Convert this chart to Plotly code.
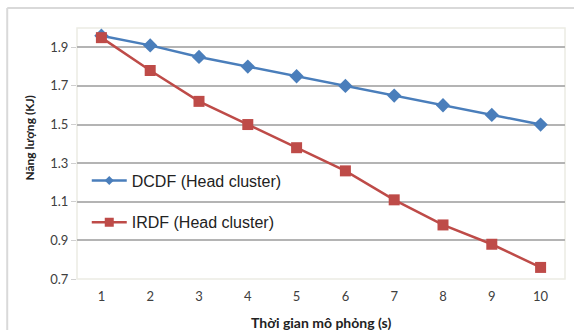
import plotly.graph_objects as go

x_labels = ["1", "2", "3", "4", "5", "6", "7", "8", "9", "10"]
dcdf = [1.96, 1.91, 1.85, 1.80, 1.75, 1.70, 1.65, 1.60, 1.55, 1.50]
irdf = [1.95, 1.78, 1.62, 1.50, 1.38, 1.26, 1.11, 0.98, 0.88, 0.76]
y_ticks = [0.7, 0.9, 1.1, 1.3, 1.5, 1.7, 1.9]

tick_font = dict(family="Lato, Carlito, Calibri, sans-serif", size=13, color="#404040")
blue = "#4a7ebb"
red = "#be4b48"

fig = go.Figure()
fig.add_trace(go.Scatter(
    x=x_labels, y=dcdf, mode="lines+markers", name="DCDF (Head cluster)",
    line=dict(color=blue, width=2.5),
    marker=dict(symbol="diamond", size=11, color=blue),
    legendgroup="a", showlegend=False,
))
fig.add_trace(go.Scatter(
    x=x_labels, y=irdf, mode="lines+markers", name="IRDF (Head cluster)",
    line=dict(color=red, width=2.5),
    marker=dict(symbol="square", size=11, color=red),
    legendgroup="b", showlegend=False,
))
# legend entries with smaller markers
fig.add_trace(go.Scatter(
    x=[None], y=[None], mode="lines+markers", name="DCDF (Head cluster)",
    line=dict(color=blue, width=2.5),
    marker=dict(symbol="diamond", size=7, color=blue),
    legendgroup="a",
))
fig.add_trace(go.Scatter(
    x=[None], y=[None], mode="lines+markers", name="IRDF (Head cluster)",
    line=dict(color=red, width=2.5),
    marker=dict(symbol="square", size=9, color=red),
    legendgroup="b",
))

fig.update_layout(
    width=574, height=330,
    margin=dict(l=77, r=9, t=28, b=51),
    paper_bgcolor="white", plot_bgcolor="white",
    showlegend=True,
    legend=dict(
        x=0.02, y=0.46, xanchor="left", yanchor="top",
        font=dict(family="Liberation Sans, Arial, sans-serif", size=16, color="#222222"),
        bgcolor="rgba(0,0,0,0)", tracegroupgap=18, traceorder="grouped",
        itemwidth=35,
    ),
    xaxis=dict(
        type="category", range=[-0.5, 9.5],
        showgrid=False, zeroline=False,
        showline=False,
        tickfont=tick_font, ticks="", ticklabelstandoff=8,
    ),
    yaxis=dict(
        range=[0.7, 2.0], tickvals=y_ticks, ticktext=[f"{v:.1f}" for v in y_ticks],
        showgrid=True, gridcolor="#b4b4b4", gridwidth=1.5,
        zeroline=False, showline=False,
        ticks="outside", ticklen=5, tickcolor="#d0d0d0",
        tickfont=tick_font,
    ),
    shapes=[
        dict(type="rect", xref="paper", yref="paper", x0=0, y0=0, x1=1, y1=1,
             line=dict(color="#ecece4", width=1.5), layer="below"),
        dict(type="line", xref="paper", yref="paper", x0=-0.143, x1=1.05, y0=1.08, y1=1.08,
             line=dict(color="#d9d9d9", width=2)),
        dict(type="line", xref="paper", yref="paper", x0=-0.143, x1=-0.143, y0=1.08, y1=-0.3,
             line=dict(color="#d9d9d9", width=2)),
    ],
    annotations=[
        dict(text="<b>Thời gian mô phỏng (s)</b>", xref="paper", yref="paper",
             x=0.5, y=-0.172, xanchor="center", yanchor="middle", showarrow=False,
             font=dict(family="Lato, Carlito, Calibri, sans-serif", size=14, color="#222222")),
        dict(text="<b>Năng lượng (KJ)</b>", xref="paper", yref="paper",
             x=-0.098, y=0.56, xanchor="center", yanchor="middle", showarrow=False,
             textangle=-90,
             font=dict(family="Lato, Carlito, Calibri, sans-serif", size=12, color="#222222")),
    ],
)

fig.write_html("out.html")
